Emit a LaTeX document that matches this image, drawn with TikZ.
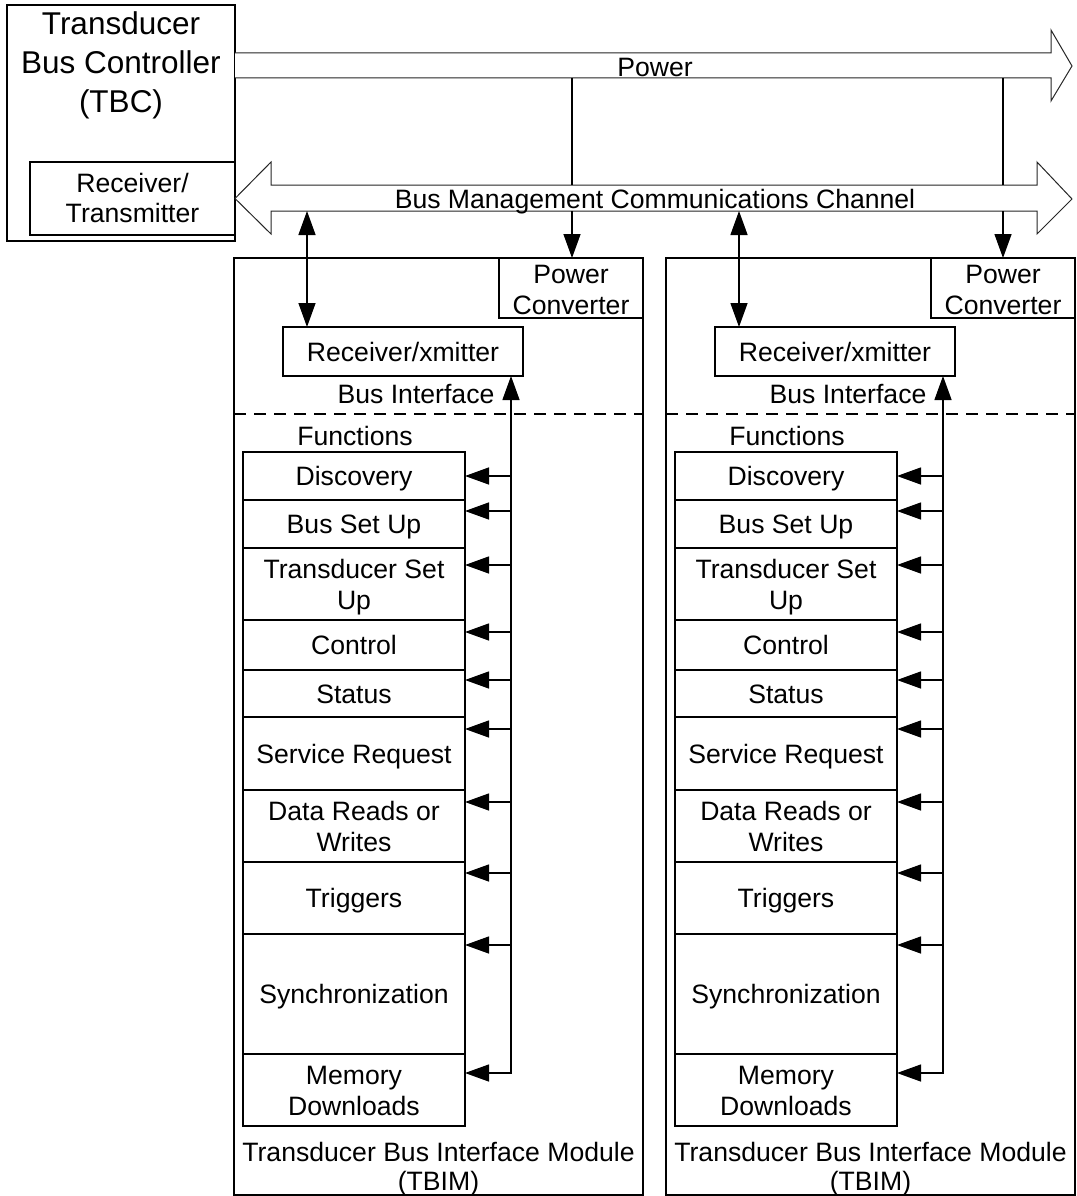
\documentclass[tikz,border=0pt]{standalone}
\usepackage{fontspec}
\setmainfont{Liberation Sans}
\usetikzlibrary{arrows.meta}
\newcommand\ms{\rule[-0.26em]{0pt}{1.24em}}
% single-line function row: text in the box
\newcommand\fnrow[6]{%
  \node[box, minimum width=222pt, minimum height={(#4-#3)*1pt}] (#2#1) at (354,{(#3+#4)/2}) {#5};
  \draw[tip] (v#1 |- 0,#6) -- (#2#1.east |- 0,#6);
}
% two-line function row: text as a centred label, nudged down
\newcommand\fnrowtwo[6]{%
  \node[box, minimum width=222pt, minimum height={(#4-#3)*1pt},
        label={[lbl, yshift=-4pt]center:{#5}}] (#2#1) at (354,{(#3+#4)/2}) {};
  \draw[tip] (v#1 |- 0,#6) -- (#2#1.east |- 0,#6);
}
\begin{document}
\begin{tikzpicture}[x=1pt,y=-1pt,
  font=\fontsize{26.6}{31}\selectfont,
  line width=1.4pt,
  box/.style={draw, rectangle, inner sep=0pt, outer sep=0pt, align=center,
    execute at begin node=\ms, execute at end node=\ms},
  lbl/.style={inner sep=0pt, align=center,
    execute at begin node=\ms, execute at end node=\ms},
  tip/.style={-{Triangle[length=24pt,width=17pt]}},
  tips/.style={{Triangle[length=24pt,width=17pt]}-{Triangle[length=24pt,width=17pt]}},
  blockarrow/.style={draw=black!85, line width=1pt, fill=white}]
\useasboundingbox (0,0) rectangle (1076,1196);

% Transducer Bus Controller
\node[draw, rectangle, inner sep=0pt, outer sep=0pt, minimum width=228pt, minimum height=236pt] (tbc) at (121,123) {};
\node[lbl, font=\fontsize{31.5}{39}\selectfont] (tbcT) at (121,66.5) {Transducer\\Bus Controller\\(TBC)};
\node[box, minimum width=205pt, minimum height=73pt,
      label={[lbl, yshift=-2.5pt, font=\fontsize{26.6}{30}\selectfont]center:{Receiver/\\Transmitter}}] (rtx) at (132.5,198.5) {};

% Power block arrow
\draw[blockarrow] (tbc.east |- 0,53) -- (1051,53) -- (1051,30) -- (1072,66) -- (1051,101) -- (1051,78) -- (tbc.east |- 0,78);
\node[lbl] (pwr) at (655,67) {Power};

% Bus management block arrow
\draw[blockarrow] (rtx.east) -- (271,162) -- (271,185) -- (1037,185) -- (1037,162) -- (1072,199) -- (1037,234) -- (1037,211) -- (271,211) -- (271,234) -- cycle;
\node[lbl] (bmcc) at (655,199) {Bus Management Communications Channel};

% Two TBIMs
\foreach \s/\o in {L/0,R/432} {
\begin{scope}[xshift=\o pt]
  \node[draw, rectangle, inner sep=0pt, outer sep=0pt, minimum width=409pt, minimum height=937pt] (tbim\s) at (438.5,726.5) {};
  \node[lbl, font=\fontsize{26.6}{29}\selectfont] (cap\s) at (438.5,1169.5) {Transducer Bus Interface Module\\(TBIM)};
  \node[box, minimum width=144pt, minimum height=60pt,
        label={[lbl, yshift=-5pt]center:{Power\\Converter}}] (pc\s) at (571,288) {};
  \node[box, minimum width=240pt, minimum height=49pt] (rx\s) at (403,351.5) {Receiver/xmitter};
  \node[lbl] (bi\s) at (416,394) {Bus Interface};
  \draw[dash pattern=on 12pt off 8pt] (tbim\s.west |- 0,414) -- (tbim\s.east |- 0,414);
  \node[lbl] (fn\s) at (355,436) {Functions};
  \coordinate (v\s) at (511,1073);
  \coordinate (b\s) at (307,211);
  \draw[tips] (b\s) -- (rx\s.north -| b\s);
  \fnrow{\s}{disc}{452}{500}{Discovery}{476}
  \fnrow{\s}{bsu}{500}{548}{Bus Set Up}{511}
  \fnrowtwo{\s}{tsu}{548}{620}{Transducer Set\\Up}{565}
  \fnrow{\s}{ctl}{620}{670}{Control}{632}
  \fnrow{\s}{sta}{670}{717}{Status}{680}
  \fnrow{\s}{srq}{717}{790}{Service Request}{729}
  \fnrowtwo{\s}{drw}{790}{862}{Data Reads or\\Writes}{802}
  \fnrow{\s}{trg}{862}{934}{Triggers}{873}
  \fnrow{\s}{syn}{934}{1054}{Synchronization}{945}
  \node[box, minimum width=222pt, minimum height=72pt,
        label={[lbl, yshift=-4pt]center:{Memory\\Downloads}}] (mem\s) at (354,1090) {};
  \draw[tips] (rx\s.south -| v\s) -- (v\s) -- (mem\s.east |- v\s);
\end{scope}
}

% Power taps
\coordinate (p1a) at (572,78);
\coordinate (p1b) at (572,185);
\coordinate (p1c) at (572,211);
\coordinate (p2a) at (1003,78);
\coordinate (p2b) at (1003,185);
\coordinate (p2c) at (1003,211);
\draw (p1a) -- (p1b);
\draw[tip] (p1c) -- (p1c |- pcL.north);
\draw (p2a) -- (p2b);
\draw[tip] (p2c) -- (p2c |- pcR.north);
\end{tikzpicture}
\end{document}
